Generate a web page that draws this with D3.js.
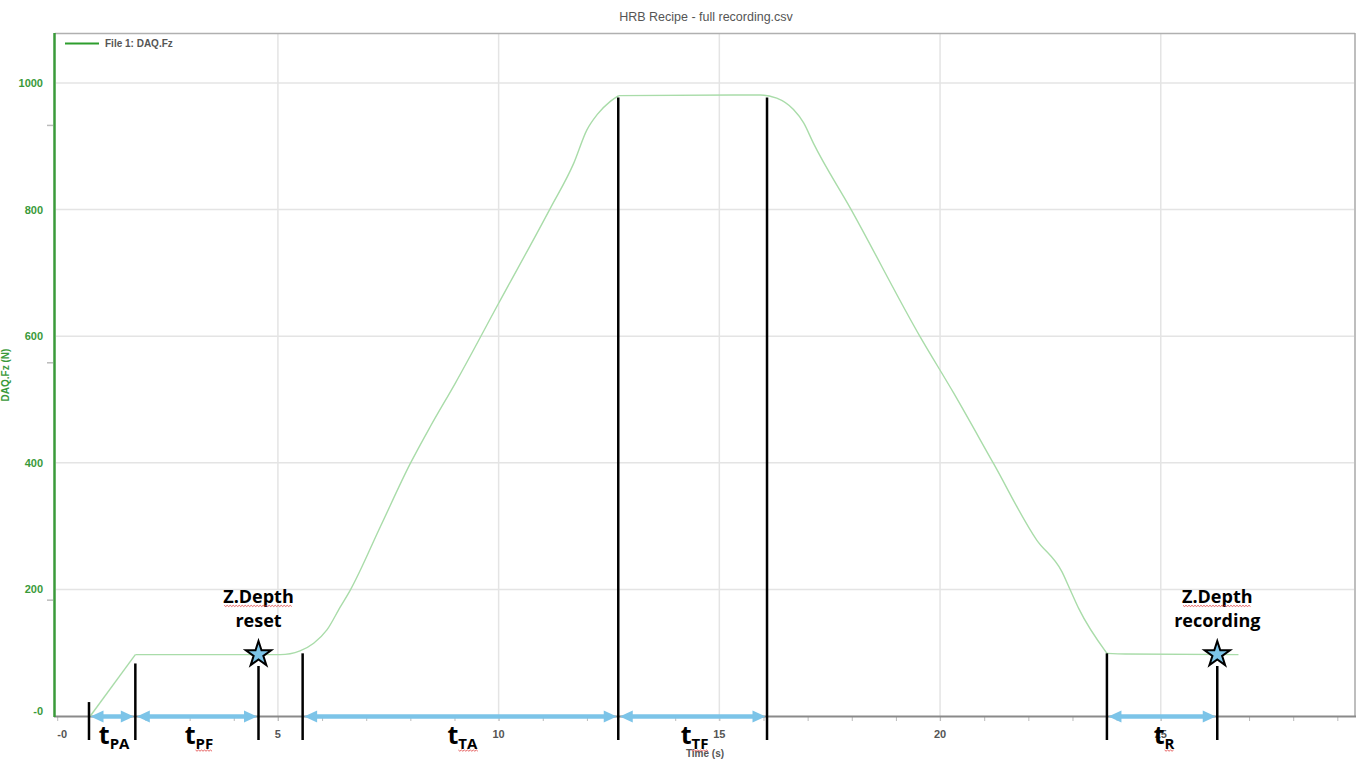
<!DOCTYPE html>
<html>
<head>
<meta charset="utf-8">
<script src="https://cdn.jsdelivr.net/npm/d3@7"></script>
<style>
  body { margin: 0; background: #fff; }
  svg { display: block; }
</style>
</head>
<body>
<svg class="chart" width="1366" height="765"></svg>
<script>
// force trace (time in s, force in N)
var time  = [0.75, 1.77, 5.05, 5.5, 5.81, 6.11, 6.41, 6.64, 7.32, 8.0, 8.45, 9.02, 10.0, 11.17, 11.7, 12.0, 12.23, 12.53, 12.72,
             15.93, 16.3, 16.68, 16.91, 17.13, 17.97, 19.55, 20.31, 21.21, 22.19, 22.76, 22.95, 23.14, 23.78, 24.2, 26.76];
var force = [0, 97, 97, 103, 115, 136, 172, 199, 299, 399, 457, 526, 652, 802, 873, 926, 950, 971, 980,
             981, 976, 958, 937, 905, 802, 599, 510, 399, 278, 228, 199, 170, 99, 98, 97];
// where the trace has sharp corners (indexes into time/force)
var corners = [0, 1, 18, 32, 34];

var xTicks = [0, 5, 10, 15, 20, 25];
var yTicks = [0, 200, 400, 600, 800, 1000];
var yMinor = [183, 558, 933];

// phase markers
var markT   = [0.72, 1.77, 4.56, 5.56, 12.71, 16.08, 23.78, 26.28];
var markTop = [22, 83, 79, 99, 977, 977, 99, 79];
var spans = [[0, 1], [1, 2], [3, 4], [4, 5], [6, 7]];
var spanLabels = ["PA", "PF", "TA", "TF", "R"];
var spanSquiggle = [false, true, true, true, true];

var starT = [4.56, 26.28];
var starV = [99, 99];
var starText = [["Z.Depth", "reset"], ["Z.Depth", "recording"]];

var W = 1366, H = 765;
var x = d3.scaleLinear().domain([-0.05, 29.4]).range([55, 1355]);
var y = d3.scaleLinear().domain([0, 1079]).range([716, 33]);

var svg = d3.select(".chart");
var green = "#3a9a3a", blue = "#7cc4e8";

// title
svg.append("text").attr("x", 706).attr("y", 21).attr("text-anchor", "middle")
  .attr("font-family", "Liberation Sans, Arial, sans-serif").attr("font-size", 12.5)
  .attr("fill", "#555").text("HRB Recipe - full recording.csv");

// grid
svg.append("g").selectAll("line").data(yTicks.slice(1)).enter().append("line")
  .attr("x1", 56).attr("x2", 1354).attr("y1", function(d) { return y(d); }).attr("y2", function(d) { return y(d); })
  .attr("stroke", "#e4e4e4").attr("stroke-width", 1.5);
svg.append("g").selectAll("line").data(xTicks.slice(1)).enter().append("line")
  .attr("y1", 34).attr("y2", 721).attr("x1", function(d) { return x(d); }).attr("x2", function(d) { return x(d); })
  .attr("stroke", "#e4e4e4").attr("stroke-width", 1.5);

// frame
svg.append("line").attr("x1", 55).attr("x2", 1355).attr("y1", 33.5).attr("y2", 33.5).attr("stroke", "#b0b0b0").attr("stroke-width", 1.5);
svg.append("line").attr("x1", 1355).attr("x2", 1355).attr("y1", 33).attr("y2", 717).attr("stroke", "#a8a8a8").attr("stroke-width", 1.5);

// x axis
var xAxis = d3.axisBottom(x).tickValues(d3.range(0, 30)).tickSize(5).tickFormat("");
svg.append("g").attr("transform", "translate(0,716)").call(xAxis)
  .call(function(g) {
    g.select(".domain").remove();
    g.selectAll("line").attr("stroke", "#bbb");
  });
svg.append("line").attr("x1", 54).attr("x2", 1356).attr("y1", 716.5).attr("y2", 716.5).attr("stroke", "#8a8a8a").attr("stroke-width", 2);
svg.append("g").selectAll("text").data(xTicks).enter().append("text")
  .attr("x", function(d) { return x(d) + (d == 0 ? 5 : 0); }).attr("y", 738).attr("text-anchor", "middle")
  .attr("font-family", "Liberation Sans, Arial, sans-serif").attr("font-size", 11).attr("font-weight", "bold")
  .attr("fill", "#555").text(function(d) { return d == 0 ? "-0" : d; });
svg.append("text").attr("x", 705).attr("y", 757).attr("text-anchor", "middle")
  .attr("font-family", "Liberation Sans, Arial, sans-serif").attr("font-size", 10).attr("font-weight", "bold")
  .attr("fill", "#555").text("Time (s)");

// y axis
svg.append("g").selectAll("line").data(yMinor).enter().append("line")
  .attr("x1", 47).attr("x2", 53).attr("y1", function(d) { return y(d); }).attr("y2", function(d) { return y(d); })
  .attr("stroke", "#bbb").attr("stroke-width", 1.5);
svg.append("line").attr("x1", 54.5).attr("x2", 54.5).attr("y1", 33).attr("y2", 717).attr("stroke", green).attr("stroke-width", 2.5);
svg.append("g").selectAll("text").data(yTicks).enter().append("text")
  .attr("x", 43).attr("y", function(d) { return y(d) + (d == 0 ? -1 : 4); }).attr("text-anchor", "end")
  .attr("font-family", "Liberation Sans, Arial, sans-serif").attr("font-size", 11).attr("font-weight", "bold")
  .attr("fill", green).text(function(d) { return d == 0 ? "-0" : d; });
svg.append("text").attr("transform", "translate(9,375) rotate(-90)").attr("text-anchor", "middle")
  .attr("font-family", "Liberation Sans, Arial, sans-serif").attr("font-size", 10).attr("font-weight", "bold")
  .attr("fill", green).text("DAQ.Fz (N)");

// legend
svg.append("line").attr("x1", 65).attr("x2", 99).attr("y1", 43.5).attr("y2", 43.5).attr("stroke", "#2e9e2e").attr("stroke-width", 2);
svg.append("text").attr("x", 105).attr("y", 47).attr("font-family", "Liberation Sans, Arial, sans-serif")
  .attr("font-size", 10).attr("font-weight", "bold").attr("fill", "#555").text("File 1: DAQ.Fz");

// trace: smooth between corners, sharp at them
var pts = time.map(function(t, i) { return [x(t), y(force[i])]; });
var smooth = d3.line().curve(d3.curveMonotoneX);
var trace = svg.append("g");
for (var c = 0; c < corners.length - 1; c++) {
  trace.append("path").attr("d", smooth(pts.slice(corners[c], corners[c + 1] + 1)))
    .attr("fill", "none").attr("stroke", "#a9dca9").attr("stroke-width", 1.4).attr("stroke-linejoin", "round");
}

// squiggle helper (spell-check underline)
function squiggle(x0, x1, yy) {
  var p = "M" + x0 + "," + yy, k = 0;
  for (var xx = x0 + 1.5; xx <= x1; xx += 1.5) { k++; p += "L" + xx + "," + (yy + (k % 2 ? 1.2 : 0)); }
  svg.append("path").attr("d", p).attr("fill", "none").attr("stroke", "#e03c3c").attr("stroke-width", 0.8);
}

// arrows
var ann = svg.append("g");
spans.forEach(function(s, i) {
  var a = x(markT[s[0]]) + 1.5, b = x(markT[s[1]]) - 1.5, yy = 716.5, hl = 13, hw = 6;
  ann.append("line").attr("x1", a + hl - 1).attr("x2", b - hl + 1).attr("y1", yy).attr("y2", yy)
    .attr("stroke", blue).attr("stroke-width", 4.5);
  ann.append("path").attr("d", "M" + a + "," + yy + "L" + (a + hl) + "," + (yy - hw) + "L" + (a + hl) + "," + (yy + hw) + "Z").attr("fill", blue);
  ann.append("path").attr("d", "M" + b + "," + yy + "L" + (b - hl) + "," + (yy - hw) + "L" + (b - hl) + "," + (yy + hw) + "Z").attr("fill", blue);
});

// marker lines
ann.selectAll(".mark").data(markT).enter().append("line").attr("class", "mark")
  .attr("x1", function(d) { return x(d); }).attr("x2", function(d) { return x(d); })
  .attr("y1", function(d, i) { return y(markTop[i]); }).attr("y2", 740)
  .attr("stroke", "#000").attr("stroke-width", 2.5);

// phase labels
spans.forEach(function(s, i) {
  var mid = (x(markT[s[0]]) + x(markT[s[1]])) / 2 + 2;
  var t = ann.append("text").attr("x", mid).attr("y", 744).attr("text-anchor", "middle")
    .attr("font-family", "Open Sans, sans-serif").attr("font-weight", "bold").attr("fill", "#000");
  t.append("tspan").attr("font-size", 25).text("t");
  var sub = t.append("tspan").attr("font-size", 15).attr("dy", 5).text(spanLabels[i]);
  if (spanSquiggle[i]) {
    var bb = sub.node().getBBox();
    squiggle(bb.x, bb.x + bb.width, 750);
  }
});

// stars and notes
var star = d3.symbol().type(d3.symbolStar).size(200);
starT.forEach(function(t, i) {
  var cx = x(t), cy = y(starV[i]);
  ann.append("path").attr("d", star()).attr("transform", "translate(" + cx + "," + (cy + 1) + ")")
    .attr("fill", blue).attr("stroke", "#000").attr("stroke-width", 2).attr("stroke-linejoin", "miter");
  var l1 = ann.append("text").attr("x", cx).attr("y", cy - 50).attr("text-anchor", "middle")
    .attr("font-family", "Open Sans, sans-serif").attr("font-weight", "bold").attr("font-size", 18)
    .attr("fill", "#000").text(starText[i][0]);
  var bb = l1.node().getBBox();
  squiggle(bb.x + 1, bb.x + bb.width - 1, cy - 48);
  ann.append("text").attr("x", cx).attr("y", cy - 26).attr("text-anchor", "middle")
    .attr("font-family", "Open Sans, sans-serif").attr("font-weight", "bold").attr("font-size", 18)
    .attr("fill", "#000").text(starText[i][1]);
});
</script>
</body>
</html>
